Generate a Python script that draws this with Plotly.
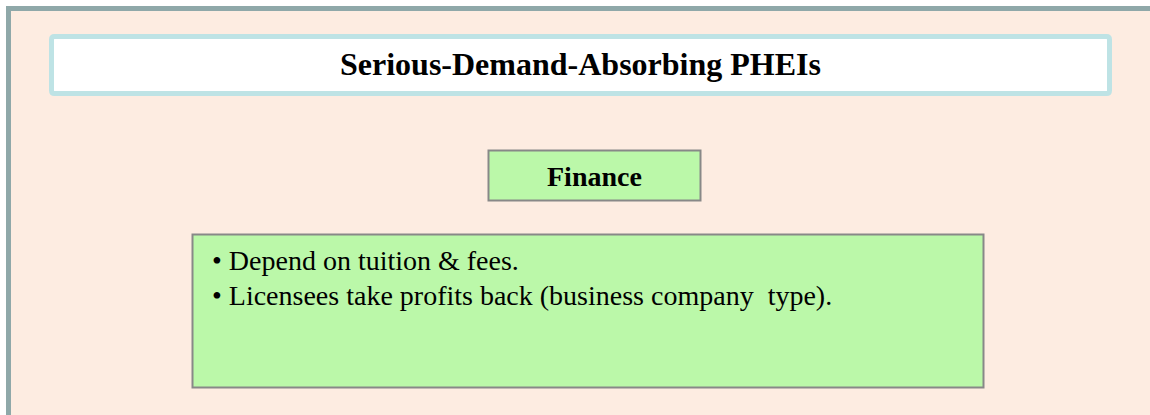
import plotly.graph_objects as go

# text content
title_text = "Serious-Demand-Absorbing PHEIs"
section_text = "Finance"
bullet_lines = [
    "\u2022 Depend on tuition &amp; fees.",
    "\u2022 Licensees take profits back (business company\u00a0 type).",
]

W, H = 1150, 415

fig = go.Figure()

# outer frame (continues past right / bottom edge)
fig.add_shape(type="rect", x0=8.5, y0=8.5, x1=1175, y1=440,
              line=dict(color="#8fa8a9", width=5), fillcolor="#fdece1", layer="below")

# title box with slightly rounded corners
x0, y0, x1, y1, r = 51.5, 36.5, 1109.5, 93.5, 3
path = (f"M {x0+r},{y0} L {x1-r},{y0} Q {x1},{y0} {x1},{y0+r} L {x1},{y1-r} "
        f"Q {x1},{y1} {x1-r},{y1} L {x0+r},{y1} Q {x0},{y1} {x0},{y1-r} "
        f"L {x0},{y0+r} Q {x0},{y0} {x0+r},{y0} Z")
fig.add_shape(type="path", path=path, line=dict(color="#bee3e5", width=5),
              fillcolor="white")

# finance header box
fig.add_shape(type="rect", x0=488.5, y0=150.5, x1=700.5, y1=200.5,
              line=dict(color="#888888", width=2), fillcolor="#bbf8a9")

# bullet box
fig.add_shape(type="rect", x0=192.5, y0=234.5, x1=983.5, y1=387.5,
              line=dict(color="#888888", width=2), fillcolor="#bbf8a9")

fig.add_annotation(x=580, y=64, text=f"<b>{title_text}</b>", showarrow=False,
                   xanchor="center", yanchor="middle",
                   font=dict(family="Liberation Serif", size=32, color="black"))
fig.add_annotation(x=594.5, y=176, text=f"<b>{section_text}</b>", showarrow=False,
                   xanchor="center", yanchor="middle",
                   font=dict(family="Liberation Serif", size=28, color="black"))

for i, line in enumerate(bullet_lines):
    fig.add_annotation(x=210, y=260 + 35 * i, text=line, showarrow=False,
                       xanchor="left", yanchor="middle",
                       font=dict(family="Liberation Serif", size=28, color="black"))

fig.update_xaxes(range=[0, W], visible=False, fixedrange=True)
fig.update_yaxes(range=[H, 0], visible=False, fixedrange=True)
fig.update_layout(width=W, height=H, margin=dict(l=0, r=0, t=0, b=0),
                  paper_bgcolor="white", plot_bgcolor="white", showlegend=False)

# drop the default page margin so the figure fills the window
fig.write_html("out.html", config={"displayModeBar": False},
               post_script="document.body.style.margin='0';"
                           "document.body.style.overflow='hidden';")
